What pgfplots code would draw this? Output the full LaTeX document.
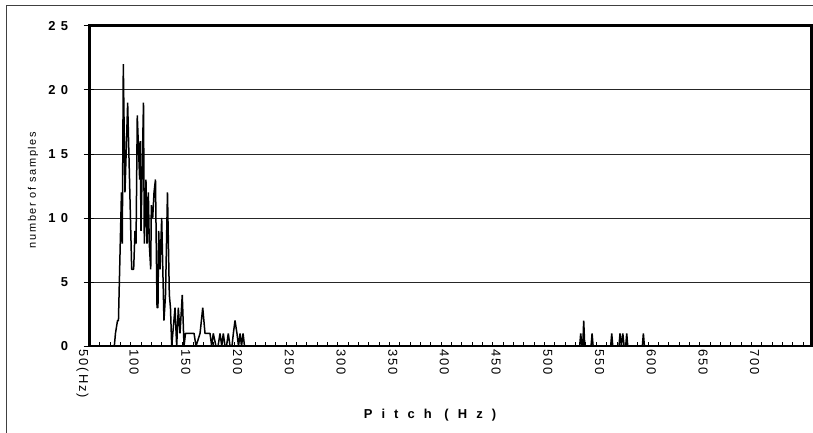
\documentclass[border=0pt]{standalone}
\usepackage{fontspec}
\setmainfont{Liberation Sans}
\newfontfamily\wide[LetterSpace=70]{Liberation Sans}
\newfontfamily\ytfont[LetterSpace=40]{Liberation Sans}
\newfontfamily\semi[LetterSpace=15]{Liberation Sans}
\usepackage{pgfplots}
\pgfplotsset{compat=1.18}

\begin{document}
\begin{tikzpicture}[x=1bp,y=1bp]
\useasboundingbox (0,0) rectangle (813,-433);
% outer frame (cropped at right and bottom)
\draw[black!75, line width=1bp] (6.5,-440) -- (6.5,-6) -- (820,-6);
\begin{axis}[
  at={(89.5bp,-346.2bp)}, anchor=south west,
  scale only axis, width=721.8bp, height=320.5bp,
  xmin=50, xmax=748, ymin=0, ymax=25,
  axis line style={line width=2.4bp},
  tick pos=left,
  xtick={50,100,...,700},
  xticklabels={50(Hz),100,150,200,250,300,350,400,450,500,550,600,650,700},
  minor xtick={60,70,...,740},
  ytick={0,5,...,25},
  /pgf/number format/assume math mode=true,
  tick align=inside, major tick length=4bp, minor tick length=4bp,
  tick style={black, line width=0.8bp},
  ymajorgrids, grid style={black!85, line width=0.8bp},
  extra y ticks={0,5,...,25}, extra y tick labels={},
  extra y tick style={tick align=outside, major tick length=6bp, grid=none},
  xticklabel style={font=\semi\fontsize{13}{13}\selectfont, rotate=-90, anchor=west, yshift=-7bp},
  yticklabel={\pgfmathprintnumber{\tick}},
  yticklabel style={font=\ytfont\bfseries\fontsize{13}{13}\selectfont, xshift=-18bp},
]
\addplot[black, line width=1.5bp, line join=bevel] coordinates {
(50,0) (74.0,0) (75.1,1) (77.1,2) (78.0,2) (80.9,12) (81.7,8) (82.7,22) (84.3,12)
(86.9,19) (90.8,6) (92.7,6) (94.0,9) (95.0,8) (96.2,18) (98.5,13) (99.1,16) (99.8,9)
(102.2,19) (103.0,8) (104.6,13) (105.6,8) (106.9,12) (107.8,8) (109.2,6) (109.8,11)
(111.1,10) (112.4,12) (113.8,13) (115.3,3) (116.2,3) (116.9,9) (118.2,6) (119.8,10)
(122.0,2) (123.5,4) (125.4,12) (127.2,4) (128.3,3) (129.5,0) (132.7,3) (134.3,0)
(135.9,3) (137.5,1) (139.7,4) (141.4,0) (142.8,1) (151.1,1) (153.0,0) (156.9,1)
(159.5,3) (161.7,1) (166.5,1) (168.2,0) (169.7,1) (172.3,0) (174.3,0) (176.2,1)
(177.9,0) (179.4,1) (181.0,0) (182.5,0) (184.2,1) (185.9,0) (187.8,0) (189.1,1)
(190.7,2) (192.6,1) (194.1,0) (195.6,1) (197.0,0) (198.5,1) (199.9,0)
(524,0) (525,1) (526.2,0) (527,0) (527.9,2) (528.9,0) (535,0) (536,1) (537,0)
(554,0) (555,1) (556,0) (562,0) (563,1) (564.3,0) (565.7,1) (567,0) (568.5,0)
(569.5,1) (570.5,0) (584.6,0) (585.6,1) (586.6,0) (748,0)
};
\end{axis}
\node[font=\wide\bfseries\fontsize{13}{13}\selectfont] at (430,-415) {Pitch (Hz)};
\node[font=\semi\fontsize{11}{11}\selectfont, rotate=90] at (33,-190) {number of samples};
\end{tikzpicture}
\end{document}
